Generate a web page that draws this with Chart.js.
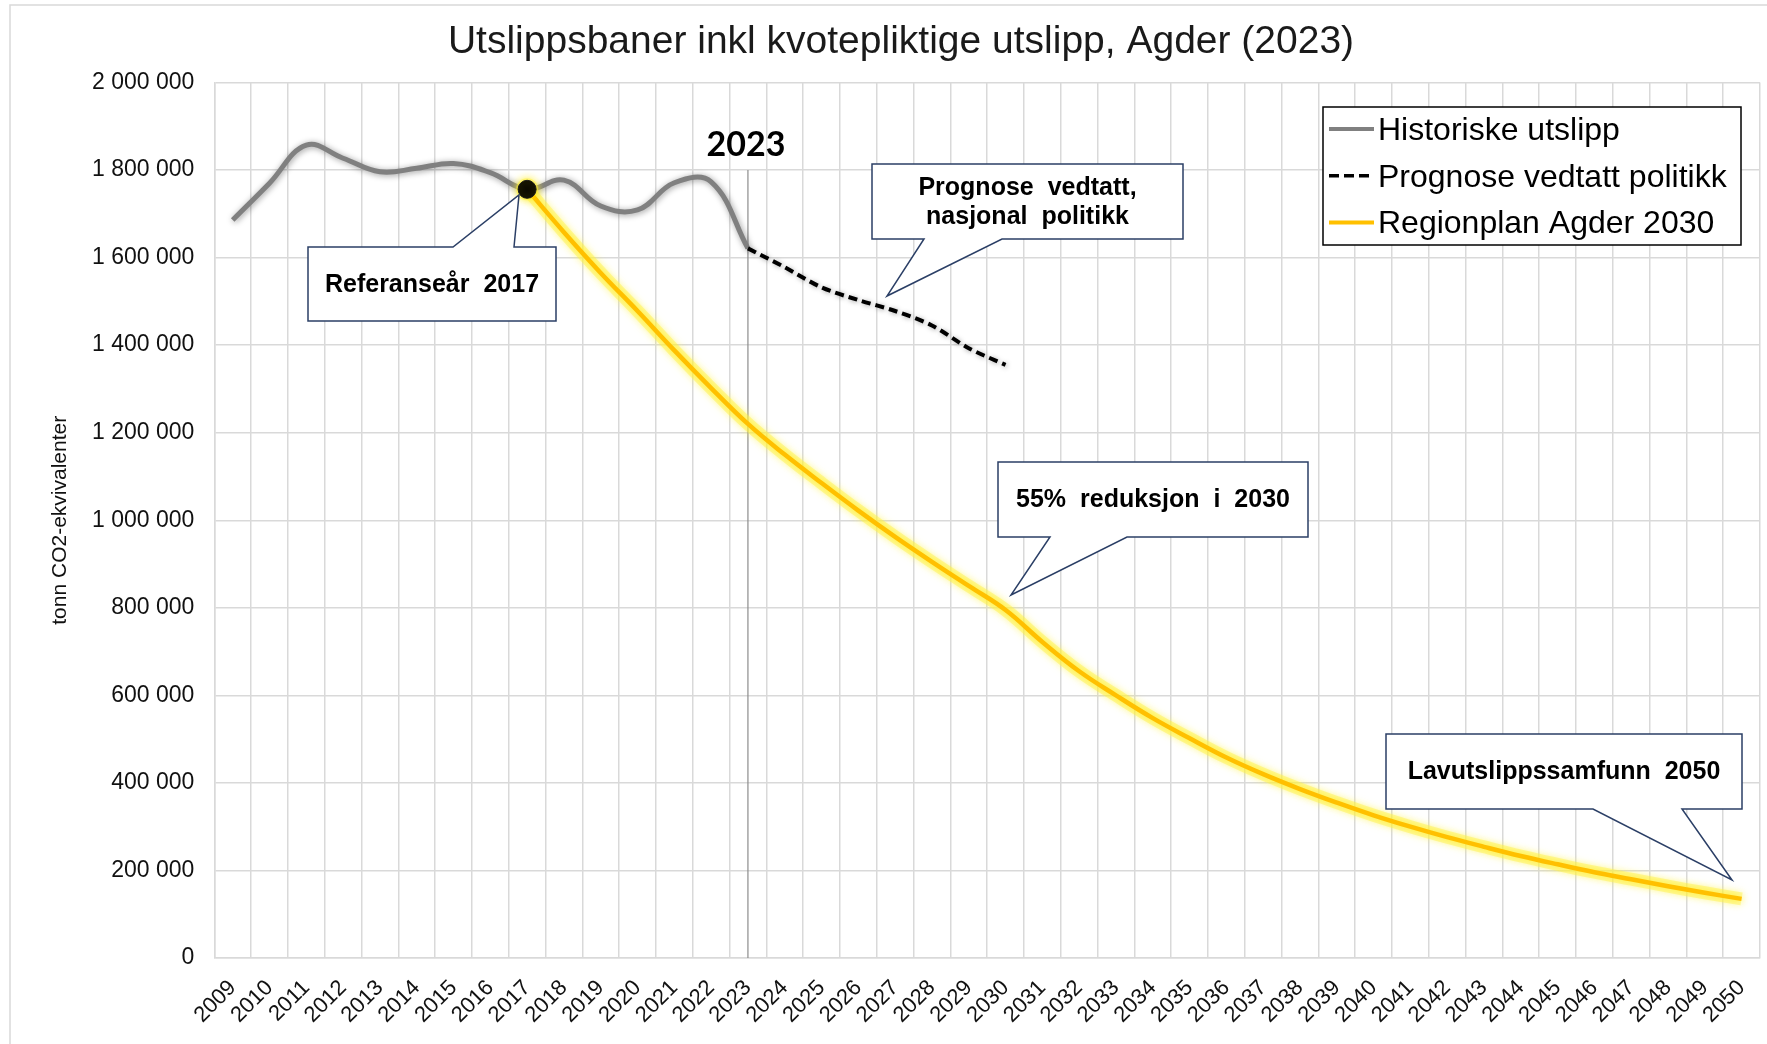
<!DOCTYPE html>
<html lang="no">
<head>
<meta charset="utf-8">
<title>Utslippsbaner Agder</title>
<script src="https://cdn.jsdelivr.net/npm/chart.js@4.4.1/dist/chart.umd.min.js"></script>
<style>
  html, body { margin: 0; padding: 0; background: #fff; }
  #wrap { width: 1767px; height: 1044px; }
</style>
</head>
<body>
<div id="wrap"><canvas id="chart" width="1767" height="1044"></canvas></div>
<script>
// år på x-aksen
const labels = [
  "2009", "2010", "2011", "2012", "2013", "2014", "2015", "2016", "2017", "2018",
  "2019", "2020", "2021", "2022", "2023", "2024", "2025", "2026", "2027", "2028",
  "2029", "2030", "2031", "2032", "2033", "2034", "2035", "2036", "2037", "2038",
  "2039", "2040", "2041", "2042", "2043", "2044", "2045", "2046", "2047", "2048",
  "2049", "2050",
];

// Historiske utslipp 2009-2023
const historiske = [
  1686000, 1770000, 1857000, 1827000, 1796000, 1804000, 1815000, 1794000,
  1756000, 1777000, 1718000, 1709000, 1771000, 1773000, 1621000,
];

// Prognose vedtatt politikk 2023-2030
const prognose = [1621000, 1578000, 1532000, 1503000, 1478000, 1445000, 1393000, 1355000];

// Regionplan Agder 2030, 2017-2050
const regionplan = [
  1756000, 1658000, 1565000, 1478000, 1388000, 1302000, 1220000, 1150000,
  1085000, 1022000, 962000, 905000, 850000, 795000, 722000, 655000,
  600000, 548000, 502000, 458000, 420000, 386000, 355000, 326000,
  300000, 276000, 254000, 233000, 214000, 196000, 180000, 164000,
  149000, 135000,
];

const yTickValues = [0, 200000, 400000, 600000, 800000, 1000000, 1200000, 1400000, 1600000, 1800000, 2000000];

const FONT = '"Liberation Sans", Arial, sans-serif';
const GRID = "#d9d9d9";
const NAVY = "#2b3f66";

// tekstbokser med pil
const callouts = [
  { lines: ["Referanseår 2017"], box: [308, 247, 556, 321], side: "top", base: [453, 514], tip: [519, 195] },
  { lines: ["Prognose vedtatt,", "nasjonal politikk"], box: [872, 164, 1183, 239], side: "bottom", base: [924, 1002], tip: [887, 296] },
  { lines: ["55% reduksjon i 2030"], box: [998, 462, 1308, 537], side: "bottom", base: [1050, 1127], tip: [1011, 595] },
  { lines: ["Lavutslippssamfunn 2050"], box: [1386, 734, 1742, 809], side: "bottom", base: [1593, 1682], tip: [1732, 880] },
];

function NumberToSpacesStr(num) {
  let str = String(num);
  const rgx = /(\d+)(\d{3})/;
  while (rgx.test(str)) str = str.replace(rgx, "$1 $2");
  return str;
}

function PadSeries(values, startYear) {
  const start = labels.indexOf(startYear);
  return labels.map((_, i) => (i >= start && i - start < values.length ? values[i - start] : null));
}

function DrawCallout(ctx, c) {
  const [l, t, r, b] = c.box;
  ctx.save();
  ctx.beginPath();
  if (c.side === "top") {
    ctx.moveTo(l, t);
    ctx.lineTo(c.base[0], t);
    ctx.lineTo(c.tip[0], c.tip[1]);
    ctx.lineTo(c.base[1], t);
    ctx.lineTo(r, t);
    ctx.lineTo(r, b);
    ctx.lineTo(l, b);
  } else {
    ctx.moveTo(l, t);
    ctx.lineTo(r, t);
    ctx.lineTo(r, b);
    ctx.lineTo(c.base[1], b);
    ctx.lineTo(c.tip[0], c.tip[1]);
    ctx.lineTo(c.base[0], b);
    ctx.lineTo(l, b);
  }
  ctx.closePath();
  ctx.fillStyle = "#fff";
  ctx.fill();
  ctx.lineWidth = 1.5;
  ctx.strokeStyle = NAVY;
  ctx.lineJoin = "miter";
  ctx.stroke();

  ctx.fillStyle = "#000";
  ctx.font = "bold 25px " + FONT;
  if ("wordSpacing" in ctx) ctx.wordSpacing = "7px";
  ctx.textAlign = "center";
  ctx.textBaseline = "middle";
  const cx = (l + r) / 2;
  const cy = (t + b) / 2;
  const lh = 28.5;
  c.lines.forEach((line, i) => {
    ctx.fillText(line, cx, cy + (i - (c.lines.length - 1) / 2) * lh + 1);
  });
  ctx.restore();
}

function DrawLegend(ctx, chart) {
  const left = 1323, top = 107, right = 1741, bottom = 245;
  ctx.save();
  ctx.fillStyle = "#fff";
  ctx.fillRect(left, top, right - left, bottom - top);
  ctx.lineWidth = 1.5;
  ctx.strokeStyle = "#000";
  ctx.strokeRect(left, top, right - left, bottom - top);

  ctx.font = "32px " + FONT;
  ctx.textAlign = "left";
  ctx.textBaseline = "alphabetic";
  chart.data.datasets
    .filter((ds) => !ds.band)
    .forEach((ds, i) => {
      const baseY = 140 + i * 46.7;
      const lineY = baseY - 11;
      ctx.beginPath();
      ctx.setLineDash(ds.borderDash ? [10, 5] : []);
      ctx.strokeStyle = ds.borderColor;
      ctx.lineWidth = ds.borderDash ? 3.5 : 4;
      ctx.moveTo(1329, lineY);
      ctx.lineTo(1374, lineY);
      ctx.stroke();
      ctx.setLineDash([]);
      ctx.fillStyle = "#000";
      ctx.fillText(ds.label, 1378, baseY);
    });
  ctx.restore();
}

const glowPlugin = {
  id: "glow",
  beforeDatasetDraw(chart, args) {
    const ds = chart.data.datasets[args.index];
    if (!ds.glow) return;
    const ctx = chart.ctx;
    ctx.save();
    ctx.shadowColor = ds.glow.color;
    ctx.shadowBlur = ds.glow.blur;
    ctx.shadowOffsetX = ds.glow.dx || 0;
    ctx.shadowOffsetY = ds.glow.dy || 0;
  },
  afterDatasetDraw(chart, args) {
    const ds = chart.data.datasets[args.index];
    if (ds.glow) chart.ctx.restore();
  },
};

const decorPlugin = {
  id: "decor",
  beforeDraw(chart) {
    const ctx = chart.ctx;
    ctx.save();
    ctx.fillStyle = "#fff";
    ctx.fillRect(0, 0, chart.width, chart.height);
    ctx.restore();
  },
  beforeDatasetsDraw(chart) {
    // loddrett strek ved 2023
    const ctx = chart.ctx;
    const x = chart.scales.x.getPixelForValue(labels.indexOf("2023"));
    const y0 = chart.scales.y.getPixelForValue(1800000);
    ctx.save();
    ctx.strokeStyle = "#8c8c8c";
    ctx.lineWidth = 1.2;
    ctx.beginPath();
    ctx.moveTo(x, y0);
    ctx.lineTo(x, chart.chartArea.bottom);
    ctx.stroke();
    ctx.restore();
  },
  afterDraw(chart) {
    const ctx = chart.ctx;
    ctx.save();
    // ytre ramme
    ctx.strokeStyle = GRID;
    ctx.lineWidth = 1.5;
    ctx.strokeRect(10, 5, 1800, 1100);

    // tittel
    ctx.fillStyle = "#1a1a1a";
    ctx.font = "39px " + FONT;
    ctx.textAlign = "center";
    ctx.textBaseline = "alphabetic";
    ctx.fillText("Utslippsbaner inkl kvotepliktige utslipp, Agder (2023)", 901, 53);

    // 2023-merke
    const x23 = chart.scales.x.getPixelForValue(labels.indexOf("2023"));
    ctx.fillStyle = "#000";
    ctx.font = 'bold 34px Lato, "Open Sans", sans-serif';
    ctx.fillText("2023", x23 - 2, 156);
    ctx.restore();

    callouts.forEach((c) => DrawCallout(ctx, c));
    DrawLegend(ctx, chart);
  },
};

function Main() {
  const ctx = document.getElementById("chart").getContext("2d");
  const markerIndex = labels.indexOf("2017");
  const regionData = PadSeries(regionplan, "2017");

  new Chart(ctx, {
    type: "line",
    data: {
      labels: labels,
      datasets: [
        {
          label: "Historiske utslipp",
          data: PadSeries(historiske, "2009"),
          borderColor: "#808080",
          borderWidth: 5,
          tension: 0.4,
          pointRadius: 0,
          order: 3,
          glow: { color: "rgba(0,0,0,0.4)", blur: 6, dx: 1, dy: 1 },
        },
        {
          label: "Prognose vedtatt politikk",
          data: PadSeries(prognose, "2023"),
          borderColor: "#000",
          borderWidth: 4,
          borderDash: [9, 5],
          tension: 0.3,
          pointRadius: 0,
          order: 2,
          glow: { color: "rgba(0,0,0,0.35)", blur: 5, dx: 1, dy: 1 },
        },
        {
          label: "Regionplan Agder 2030",
          data: regionData,
          borderColor: "#ffc000",
          borderWidth: 4.5,
          tension: 0.4,
          pointRadius: (c) => (c.dataIndex === markerIndex ? 9 : 0),
          pointBackgroundColor: "#000",
          pointBorderColor: "#1a1a1a",
          pointBorderWidth: 1,
          order: 0,
          glow: { color: "rgba(255,235,0,0.9)", blur: 8 },
        },
        {
          // gul glød bak Regionplan-linjen
          label: "glow",
          band: true,
          data: regionData,
          borderColor: "rgba(255,245,80,0.45)",
          borderWidth: 13,
          tension: 0.4,
          pointRadius: (c) => (c.dataIndex === markerIndex ? 11 : 0),
          pointBackgroundColor: "rgba(255,245,80,0.45)",
          pointBorderWidth: 0,
          order: 1,
          glow: { color: "rgba(255,250,120,0.8)", blur: 8 },
        },
      ],
    },
    options: {
      responsive: false,
      animation: false,
      events: [],
      layout: { padding: { top: 82.5, right: 7, left: 0, bottom: 0 } },
      plugins: {
        legend: { display: false },
        title: { display: false },
        tooltip: { enabled: false },
      },
      scales: {
        x: {
          offset: true,
          grid: { offset: true, color: GRID, lineWidth: 1.5, drawTicks: false },
          border: { color: GRID, width: 1.5 },
          ticks: {
            autoSkip: false,
            minRotation: 45,
            maxRotation: 45,
            padding: 17,
            color: "#111",
            font: { family: FONT, size: 22 },
          },
          afterFit: (scale) => {
            scale.height = 86;
            scale.paddingLeft = 0;
            scale.paddingRight = 0;
          },
        },
        y: {
          min: 0,
          max: 2000000,
          afterBuildTicks: (scale) => {
            scale.ticks = yTickValues.map((v) => ({ value: v }));
          },
          grid: { color: GRID, lineWidth: 1.5, drawTicks: false },
          border: { color: GRID, width: 1.5 },
          ticks: {
            padding: 20,
            color: "#111",
            font: { family: FONT, size: 23 },
            callback: (v) => NumberToSpacesStr(v),
          },
          title: {
            display: true,
            text: "tonn CO2-ekvivalenter",
            color: "#111",
            font: { family: FONT, size: 21 },
            padding: { top: 48, bottom: 0 },
          },
          afterFit: (scale) => {
            scale.width = 214.3;
          },
        },
      },
    },
    plugins: [glowPlugin, decorPlugin],
  });
}

Main();
</script>
</body>
</html>
